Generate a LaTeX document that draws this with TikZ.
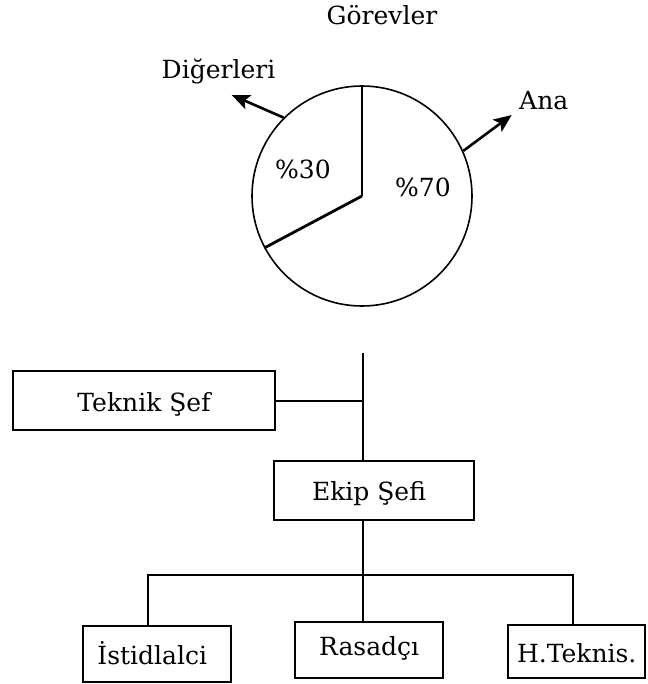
\documentclass[tikz,border=0pt]{standalone}
\usepackage{fontspec}
\setmainfont{DejaVu Serif}
\usetikzlibrary{arrows.meta}
\begin{document}
\begin{tikzpicture}[x=1pt,y=-1pt,
  every node/.style={font=\fontsize{25}{30}\selectfont},
  lbl/.style={anchor=base, inner sep=0pt},
  box/.style={draw, line width=2pt, inner sep=0pt, text height=21pt, text depth=0pt},
  link/.style={line width=2pt},
  ptr/.style={line width=2.6pt, -{Stealth[length=18pt,width=15pt,inset=4pt]}},
]
\useasboundingbox (0,0) rectangle (647,684);

% pie chart of duties
\node[circle, draw, line width=1.6pt, minimum size=220pt, inner sep=0pt] (pie) at (362,196) {};
\draw[line width=2pt] (pie.north) -- (pie.center);
\draw[line width=2.8pt] (pie.center) -- (pie.208);

\node[lbl] (gorev) at (382,25) {Görevler};
\node[lbl] (diger) at (218.5,79) {Diğerleri};
\node[lbl, anchor=base west] (ana) at (519,110) {Ana};
\node[lbl] (p30) at (303,178.3) {\%30};
\node[lbl] (p70) at (423,196.7) {\%70};

\coordinate (dtip) at (231.7,95);
\coordinate (atip) at (511.7,115);
\draw[ptr] (pie.135) -- (dtip);
\draw[ptr] (pie.24) -- (atip);

% organisation chart
\node[box, minimum width=262.6pt, minimum height=59pt] (teknik) at (144,400.5) {Teknik Şef};
\node[box, minimum width=200pt, minimum height=59pt] (ekip) at (374,490) {\kern-10pt Ekip Şefi};
\node[box, minimum width=148pt, minimum height=56pt] (ist) at (156.7,653.7) {\kern-9pt İstidlalci};
\node[box, minimum width=148.3pt, minimum height=56.6pt, text height=10pt] (rasad) at (369.2,650) {Rasadçı};
\node[box, minimum width=136.7pt, minimum height=53.3pt] (htek) at (576.7,651.7) {H.Teknis.};

\coordinate (trunk) at (362.5,353);
\coordinate (busL) at (148.3,575);
\coordinate (busR) at (573.3,575);
\draw[link] (trunk) -- (trunk |- ekip.north);
\draw[link] (teknik.east) -- (trunk |- teknik.east);
\draw[link] (trunk |- ekip.south) -- (trunk |- rasad.north);
\draw[link] (busL |- ist.north) -- (busL) -- (busR) -- (busR |- htek.north);
\end{tikzpicture}
\end{document}
